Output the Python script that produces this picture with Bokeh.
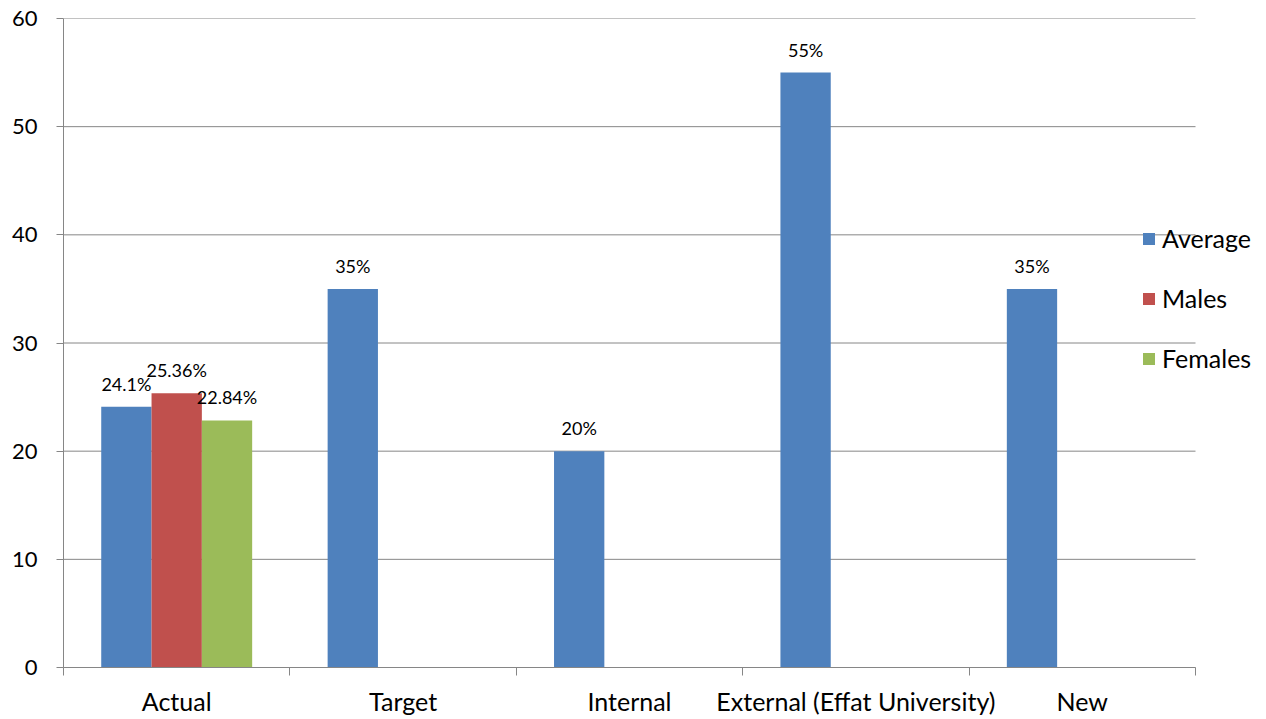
import numpy as np
from bokeh.plotting import figure
from bokeh.models import ColumnDataSource, FixedTicker, Range1d, Legend, LegendItem
from bokeh.transform import dodge
from bokeh.core.properties import value
from bokeh.embed import file_html
from bokeh.resources import INLINE

# ---- data ----
categories = ["Actual", "Target", "Internal", "External (Effat University)", "New"]
average = [24.1, 35, 20, 55, 35]
average_labels = ["24.1%", "35%", "20%", "55%", "35%"]
males = [25.36, None, None, None, None]
males_labels = ["25.36%", "", "", "", ""]
females = [22.84, None, None, None, None]
females_labels = ["22.84%", "", "", "", ""]
y_ticks = [0, 10, 20, 30, 40, 50, 60]

# ---- style ----
FONT = "Lato"
GRID = "#868686"
BAR_W = 1 / 4.5
N = len(categories)
# frame extends to the right edge so the legend can overlap the plot area;
# data area (0..N) spans 1132 of the 1203 frame pixels
X_END = N * 1203 / 1132

series = [
    ("Average", average, average_labels, "#4F81BD", -BAR_W),
    ("Males", males, males_labels, "#C0504D", 0.0),
    ("Females", females, females_labels, "#9BBB59", BAR_W),
]

p = figure(width=1266, height=719, output_backend="svg", toolbar_location=None,
           x_range=Range1d(0, X_END), y_range=Range1d(0, 60),
           min_border_left=63, min_border_right=0, min_border_top=18,
           min_border_bottom=52)
p.outline_line_color = None
p.background_fill_color = "white"
p.border_fill_color = "white"

# horizontal gridlines limited to the data area
p.segment(x0=0, x1=N, y0=y_ticks, y1=y_ticks, line_color=GRID, line_width=1)

renderers = []
for name, vals, labs, color, off in series:
    xs, ys, ts = [], [], []
    for i, (v, t) in enumerate(zip(vals, labs)):
        if v is None:
            continue
        xs.append(i + 0.5)
        ys.append(v)
        ts.append(t)
    src = ColumnDataSource(dict(x=xs, y=ys, label=ts))
    r = p.vbar(x=dodge("x", off, range=p.x_range), top="y", width=BAR_W,
               source=src, fill_color=color, line_color=None)
    p.text(x=dodge("x", off, range=p.x_range), y="y", text="label", source=src,
           text_align="center", text_baseline="middle", y_offset=-23,
           text_font=value(FONT), text_font_size="18px", text_color="black")
    renderers.append((name, r))

# x axis: labels at centres, ticks at group boundaries
xa = p.xaxis[0]
centers = [i + 0.5 for i in range(N)]
xa.bounds = (0, N)
xa.ticker = FixedTicker(ticks=centers, minor_ticks=list(range(N + 1)))
xa.major_label_overrides = {c: lab for c, lab in zip(centers, categories)}
xa.major_tick_line_color = None
xa.major_tick_out = 0
xa.major_tick_in = 0
xa.minor_tick_line_color = GRID
xa.minor_tick_out = 8
xa.minor_tick_in = 0
xa.axis_line_color = GRID
xa.major_label_standoff = 10
xa.major_label_text_font = FONT
xa.major_label_text_font_size = "25px"
xa.major_label_text_color = "black"

ya = p.yaxis[0]
ya.ticker = FixedTicker(ticks=y_ticks)
ya.major_tick_out = 7
ya.major_tick_in = 0
ya.minor_tick_line_color = None
ya.major_tick_line_color = GRID
ya.axis_line_color = GRID
ya.major_label_standoff = 19
ya.major_label_text_font = FONT
ya.major_label_text_font_size = "22px"
ya.major_label_text_color = "black"

p.xgrid.visible = False
p.ygrid.visible = False

legend = Legend(items=[LegendItem(label=n, renderers=[r]) for n, r in renderers],
                location=(1078, 293), orientation="vertical",
                background_fill_alpha=0, border_line_color=None,
                label_text_font=FONT, label_text_font_size="25px",
                label_text_color="black",
                glyph_width=15, glyph_height=15, label_standoff=6,
                spacing=28, padding=0, margin=0, label_height=32)
p.add_layout(legend, "center")

open("out.html", "w").write(file_html(p, INLINE))
